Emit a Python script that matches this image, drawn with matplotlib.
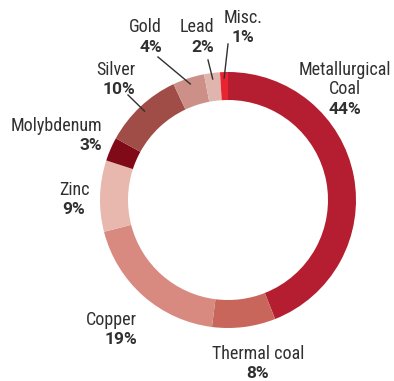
import numpy as np
import matplotlib
matplotlib.use("Agg")
import matplotlib.pyplot as plt

# share of revenue by commodity, clockwise from 12 o'clock
categories = ["Metallurgical\nCoal", "Thermal coal", "Copper", "Zinc", "Molybdenum",
              "Silver", "Gold", "Lead", "Misc."]
shares = [44, 8, 19, 9, 3, 10, 4, 2, 1]
colors = ["#b51d31", "#c9665c", "#d88a80", "#e8b7ad", "#800a18",
          "#a04c47", "#cd9088", "#e0b5ad", "#e82430"]

W, H = 394, 381
CX, CY, R, RW = 228, 200, 128, 28   # ring centre / radius in image pixels

# label anchor (x, baseline of first line, image px), alignment, leader start or None
label_pos = {
    "Metallurgical\nCoal": (345, 75, "center", None),
    "Thermal coal": (258, 359, "center", None),
    "Copper": (137, 325, "right", None),
    "Zinc": (74, 195, "center", None),
    "Molybdenum": (102, 131, "right", None),
    "Silver": (135, 75, "right", (128, 95)),
    "Gold": (162, 32, "right", (158, 57)),
    "Lead": (214, 32, "right", (208, 60)),
    "Misc.": (243, 23, "center", (228, 44)),
}

TXT = "#303030"
FONT = ["Roboto Condensed", "DejaVu Sans"]
PCT_FONT = ["Roboto", "DejaVu Sans"]
FS = 13


def img(x, y):
    return x, H - y


fig = plt.figure(figsize=(W / 100, H / 100), dpi=100)
ax = fig.add_axes([0, 0, 1, 1])

ax.pie(shares, colors=colors, startangle=90, counterclock=False,
       radius=R, center=img(CX, CY),
       wedgeprops=dict(width=RW, edgecolor="none"))
ax.set_xlim(0, W)
ax.set_ylim(0, H)
ax.axis("off")

step = 19.5
cum = np.cumsum([0] + shares)
for i, (name, pct) in enumerate(zip(categories, shares)):
    x, y0, ha, lead = label_pos[name]
    lines = name.split("\n")
    for j, ln in enumerate(lines):
        ax.text(*img(x, y0 + j * step), ln, ha=ha, va="baseline",
                fontsize=FS, color=TXT, family=FONT)
    ax.text(*img(x, y0 + len(lines) * step), f"{pct}%", ha=ha, va="baseline",
            fontsize=FS - 0.5, color=TXT, family=PCT_FONT, fontweight="bold")
    if lead is not None:
        mid = (cum[i] + cum[i + 1]) / 2 / 100 * 2 * np.pi
        ex = CX + 122 * np.sin(mid)
        ey = CY - 122 * np.cos(mid)
        ax.plot([lead[0], ex], [H - lead[1], H - ey], color=TXT, lw=1)

fig.savefig("out.png", dpi=100)
